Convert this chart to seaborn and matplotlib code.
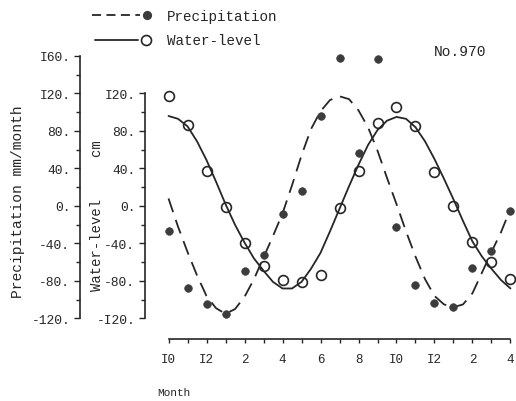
import matplotlib
matplotlib.use('Agg')
import matplotlib.pyplot as plt
from matplotlib.lines import Line2D
from matplotlib.ticker import FixedLocator
import seaborn as sns

# monthly observations, Oct (year 1) .. Apr (year 3)
months = list(range(19))
precip = [-27, -88, -105, -115, -69, -52, -9, 16, 96, 158, 56, 157,
          -22, -84, -103, -108, -66, -48, -5]
water = [117, 86, 37, -1, -39, -64, -79, -81, -74, -2, 37, 88,
         106, 85, 36, 0, -38, -60, -78]

# fitted curves, read every half month
curve_months = [i * 0.5 for i in range(37)]
water_curve = [96, 93, 85, 69, 49, 26, 2, -20, -39, -56, -69, -81, -88,
               -88, -81, -67, -50, -27, -3, 21, 44, 65, 81, 91, 95,
               93, 84, 69, 50, 29, 7, -16, -38, -54, -67, -79, -88]
precip_curve_months = curve_months[:36] + [17.9]
precip_curve = [8, -22, -49, -74, -96, -109, -115, -110, -97, -78, -55, -32,
                -8, 22, 54, 82, 101, 113, 117, 114, 102, 84, 59, 30,
                2, -27, -54, -78, -96, -105, -108, -105, -93, -71, -49, -28,
                -8]

month_ticks = list(range(0, 19, 2))
month_labels = ['I0', 'I2', '2', '4', '6', '8', 'I0', 'I2', '2', '4']
precip_ticks = [-120, -80, -40, 0, 40, 80, 120, 160]
precip_labels = ['-120.', '-80.', '-40.', '0.', '40.', '80.', 'I20.', 'I60.']
water_ticks = [-120, -80, -40, 0, 40, 80, 120]
water_labels = ['-I20.', '-80.', '-40.', '0.', '40.', '80.', 'I20.']

sns.set_theme(style='ticks')
plt.rcParams['font.family'] = ['Liberation Mono', 'DejaVu Sans Mono']
ink = '#262626'
dot = '#3c3c3c'

W, H = 516, 402
fig = plt.figure(figsize=(W / 100, H / 100), dpi=100)
fig.patch.set_facecolor('white')

ax = fig.add_axes([80 / W, 62 / H, 436 / W, 283 / H])
ax.set_facecolor('none')
ppm = 19.0
x0 = 168.5
ax.set_xlim((80 - x0) / ppm, (516 - x0) / ppm)
ax.set_ylim(-141.9, 160)

sns.lineplot(x=curve_months, y=water_curve, ax=ax, color=ink, lw=1.3, zorder=3)
sns.lineplot(x=precip_curve_months, y=precip_curve, ax=ax, color=ink, lw=1.3,
             linestyle=(0, (8, 4.5)), zorder=3)
sns.scatterplot(x=months, y=water, ax=ax, color='white', edgecolor=ink,
                s=50, linewidth=1.2, zorder=2)
sns.scatterplot(x=months, y=precip, ax=ax, color=dot, edgecolor=dot,
                s=30, linewidth=0.5, zorder=4, clip_on=False)

for side in ['top', 'right']:
    ax.spines[side].set_visible(False)
for side in ['left', 'bottom']:
    ax.spines[side].set_color(ink)
    ax.spines[side].set_linewidth(1.2)
ax.spines['left'].set_bounds(-120, 160)
ax.spines['bottom'].set_bounds(0, 18)

ax.set_yticks(precip_ticks, precip_labels)
ax.yaxis.set_minor_locator(FixedLocator(list(range(-100, 160, 40))))
ax.set_xticks(month_ticks, month_labels)
ax.xaxis.set_minor_locator(FixedLocator(list(range(1, 19, 2))))
ax.tick_params(axis='both', which='both', direction='out', color=ink,
               width=1, labelcolor=ink)
ax.tick_params(axis='y', which='major', length=4, pad=3, labelsize=9.4)
ax.tick_params(axis='y', which='minor', length=3)
ax.tick_params(axis='x', which='both', length=3, pad=7, labelsize=9)
ax.set_xlabel('')
ax.set_ylabel('')

# water-level axis
ax2 = ax.twinx()
ax2.set_ylim(ax.get_ylim())
ax2.yaxis.tick_left()
for side in ['top', 'right', 'bottom']:
    ax2.spines[side].set_visible(False)
ax2.spines['left'].set_visible(True)
ax2.spines['left'].set_color(ink)
ax2.spines['left'].set_linewidth(1.2)
ax2.spines['left'].set_position(('data', (145 - x0) / ppm))
ax2.spines['left'].set_bounds(-120, 120)
ax2.set_yticks(water_ticks, water_labels)
ax2.yaxis.set_minor_locator(FixedLocator(list(range(-100, 120, 40))))
ax2.tick_params(axis='y', which='both', direction='out', color=ink,
                width=1, labelcolor=ink)
ax2.tick_params(axis='y', which='major', length=4, pad=3, labelsize=9.4)
ax2.tick_params(axis='y', which='minor', length=3)

ax.text((18 - 80) / 436, (340 - 202) / 283, 'Precipitation mm/month',
        rotation=90, transform=ax.transAxes, ha='center', va='center',
        fontsize=10.5, color=ink)
ax.text((97 - 80) / 436, (340 - 216) / 283, 'Water-level     cm',
        rotation=90, transform=ax.transAxes, ha='center', va='center',
        fontsize=10, color=ink)

# legend
fy1, fy2 = 1 - 16 / H, 1 - 41 / H
fig.add_artist(Line2D([92 / W, 140 / W], [fy1, fy1], color=ink, lw=1.3,
                      linestyle=(0, (5, 3))))
fig.add_artist(Line2D([147 / W], [fy1], marker='o', markersize=5.6,
                      color=dot, linestyle='none'))
fig.add_artist(Line2D([95 / W, 138 / W], [fy2, fy2], color=ink, lw=1.3))
fig.add_artist(Line2D([146 / W], [fy2], marker='o', markersize=7.2,
                      markerfacecolor='white', markeredgecolor=ink,
                      markeredgewidth=1.2, linestyle='none'))
fig.text(167 / W, 1 - 17 / H, 'Precipitation', fontsize=10.3, va='center',
         color=ink)
fig.text(167 / W, 1 - 41 / H, 'Water-level', fontsize=10.3, va='center',
         color=ink)

fig.text(460 / W, 1 - 52 / H, 'No.970', ha='center', va='center',
         fontsize=10.5, color=ink)
fig.text(174 / W, 1 - 393 / H, 'Month', ha='center', va='center',
         fontsize=8, color=ink)

fig.savefig('out.png', dpi=100)
